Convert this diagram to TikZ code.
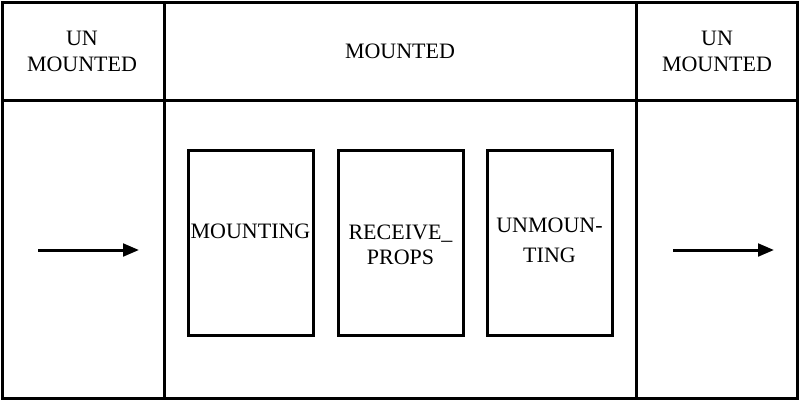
\documentclass[tikz,border=0pt]{standalone}
\usepackage{fontspec}
\setmainfont{Liberation Serif}
\usepackage{tikz}
\usetikzlibrary{arrows.meta, positioning, calc}

\begin{document}
\begin{tikzpicture}[
  x=0.75pt, y=-0.75pt,
  frame/.style={draw=black, line width=2.25pt},
  stage/.style={draw=black, line width=2.25pt, minimum width=93.75pt, minimum height=138.75pt, inner sep=0pt},
  txt/.style={align=center, inner sep=0pt, font=\fontsize{16.5}{19}\selectfont},
  >={Triangle[length=12pt, width=9.5pt]}
]
\useasboundingbox (0,0) rectangle (800,401);

% table frame
\draw[frame] (2,2) rectangle (797,398);
\draw[frame] (164,2) -- (164,398);
\draw[frame] (636,2) -- (636,398);
\draw[frame] (2,100) -- (797,100);

% header labels
\node[txt] (unleft)  at (82,51.5)  {UN\\MOUNTED};
\node[txt] (mounted) at (400,51) {MOUNTED};
\node[txt] (unright) at (717,51.5) {UN\\MOUNTED};

% lifecycle stages
\node[stage] (mounting)  at (250.5,242.5) {};
\node[stage] (receive)   at (400.5,242.5) {};
\node[stage] (unmount)   at (549.5,242.5) {};
\node[txt] (mountingtxt) at ([yshift=8.25pt]mounting.center) {MOUNTING};
\node[txt] (receivetxt)  at ([yshift=-1.9pt]receive.center) {RECEIVE\_\\PROPS};
\node[txt, font=\fontsize{16.5}{22.5}\selectfont] (unmounttxt) at ([yshift=1.5pt]unmount.center) {UNMOUN-\\TING};

% arrows
\coordinate (lin)  at (38,250);
\coordinate (lout) at (139,250);
\coordinate (rin)  at (673,250);
\coordinate (rout) at (774,250);
\draw[->, line width=2.25pt] (lin) -- (lout);
\draw[->, line width=2.25pt] (rin) -- (rout);
\end{tikzpicture}
\end{document}
